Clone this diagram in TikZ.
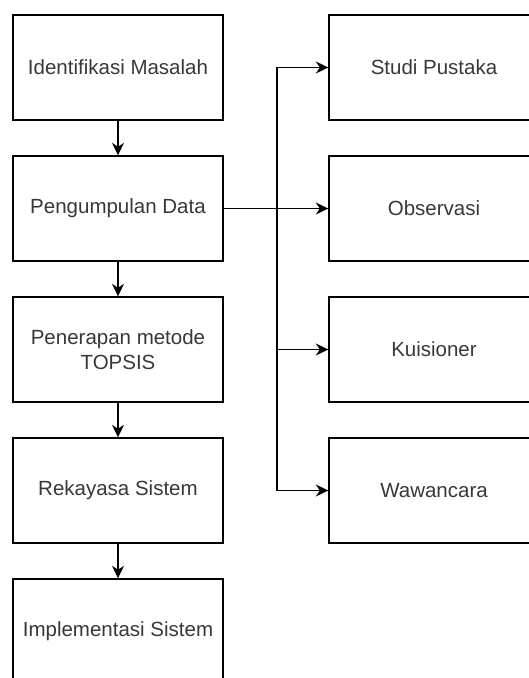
\documentclass[tikz,border=0pt]{standalone}
\usepackage{fontspec}
\setmainfont{Liberation Sans}
\usetikzlibrary{arrows.meta}
\begin{document}
\begin{tikzpicture}[x=1pt,y=-1pt,
  box/.style={draw=black,line width=1.4pt,minimum width=210pt,minimum height=105pt,
    inner sep=0pt,align=center,text=black!78,font=\fontsize{20.5}{25}\selectfont},
  arr/.style={line width=1.4pt,-{Stealth[length=12.5pt,width=12pt,inset=4pt]}}]
\useasboundingbox (0,0) rectangle (529,678);
\clip (0,0) rectangle (529,678);
% main process column
\node[box] (ident) at (118,67.5) {Identifikasi Masalah};
\node[box] (peng)  at (118,208.5) {Pengumpulan Data};
\node[box] (pener) at (118,349.5) {Penerapan metode\\TOPSIS};
\node[box] (reka)  at (118,490.5) {Rekayasa Sistem};
\node[box] (impl)  at (118,631.5) {Implementasi Sistem};
% data collection methods
\node[box] (studi) at (434,67.5) {Studi Pustaka};
\node[box] (obs)   at (434,208.5) {Observasi};
\node[box] (kuis)  at (434,349.5) {Kuisioner};
\node[box] (waw)   at (434,490.5) {Wawancara};
% sequential flow
\draw[arr] (ident) -- (peng);
\draw[arr] (peng) -- (pener);
\draw[arr] (pener) -- (reka);
\draw[arr] (reka) -- (impl);
% branching from data collection
\coordinate (bus) at (277,208.5);
\draw[arr] (peng.east) -- (obs.west);
\draw[arr] (bus) |- (studi.west);
\draw[arr] (bus) |- (kuis.west);
\draw[arr] (bus) |- (waw.west);
\end{tikzpicture}
\end{document}
